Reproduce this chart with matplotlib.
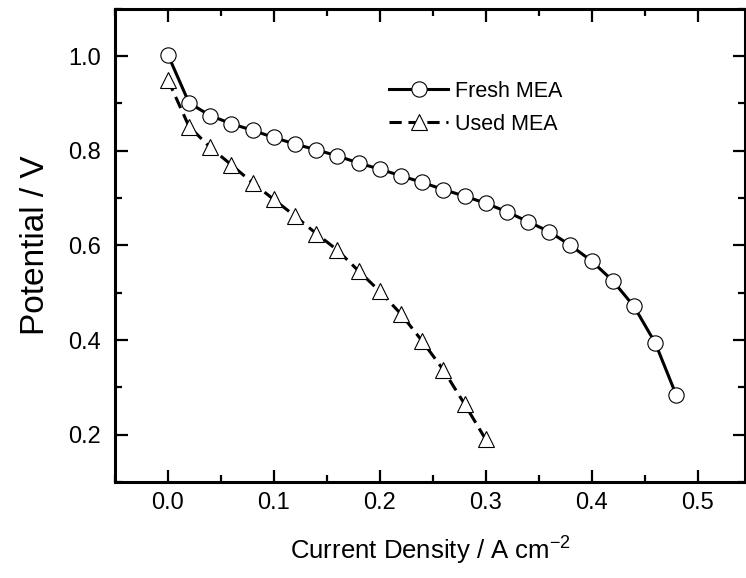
import matplotlib
matplotlib.use("Agg")
import matplotlib.pyplot as plt
from matplotlib.ticker import MultipleLocator, FormatStrFormatter

plt.rcParams['font.family'] = ['Liberation Sans', 'DejaVu Sans']
plt.rcParams['mathtext.fontset'] = 'custom'
plt.rcParams['mathtext.rm'] = 'Liberation Sans'

# ---------- data ----------
fresh_j = [0.00, 0.02, 0.04, 0.06, 0.08, 0.10, 0.12, 0.14, 0.16, 0.18, 0.20, 0.22, 0.24,
           0.26, 0.28, 0.30, 0.32, 0.34, 0.36, 0.38, 0.40, 0.42, 0.44, 0.46, 0.48]
fresh_v = [1.003, 0.901, 0.874, 0.857, 0.843, 0.828, 0.814, 0.802, 0.789, 0.774, 0.761, 0.747, 0.733,
           0.718, 0.704, 0.689, 0.671, 0.650, 0.629, 0.600, 0.567, 0.525, 0.471, 0.394, 0.283]
used_j = [0.00, 0.02, 0.04, 0.06, 0.08, 0.10, 0.12, 0.14, 0.16, 0.18, 0.20, 0.22, 0.24, 0.26, 0.28, 0.30]
used_v = [0.950, 0.851, 0.807, 0.770, 0.732, 0.697, 0.662, 0.625, 0.590, 0.546, 0.503, 0.455,
          0.398, 0.337, 0.265, 0.190]

fig = plt.figure(figsize=(7.46, 5.78), dpi=100)
ax = fig.add_axes([0.154, 0.166, 0.845, 0.819])

mk = dict(markersize=11, markerfacecolor="white", markeredgecolor="black", markeredgewidth=0.8)
ax.plot(fresh_j, fresh_v, "-", color="black", lw=2.2, marker="o", label="Fresh MEA", **mk)
ax.plot(used_j, used_v, color="black", lw=2.2, ls=(0, (4, 2.2)), marker="^", label="Used MEA", **mk)

ax.set_xlim(-0.05, 0.545)
ax.set_ylim(0.1, 1.1)
ax.xaxis.set_major_locator(MultipleLocator(0.1)); ax.xaxis.set_minor_locator(MultipleLocator(0.05))
ax.yaxis.set_minor_locator(MultipleLocator(0.1))
ax.set_yticks([0.2, 0.4, 0.6, 0.8, 1.0])
ax.xaxis.set_major_formatter(FormatStrFormatter("%.1f"))
ax.yaxis.set_major_formatter(FormatStrFormatter("%.1f"))
ax.tick_params(which="both", direction="in", top=True, right=True, width=1.6)
ax.tick_params(which="major", length=9, labelsize=17)
ax.tick_params(which="minor", length=5)
ax.tick_params(axis="x", which="major", pad=7)
ax.tick_params(axis="y", which="major", pad=10)
for s in ax.spines.values():
    s.set_linewidth(2.2)

ax.set_xlabel(r"Current Density / A cm$^{-2}$", fontsize=18.5, labelpad=14)
ax.set_ylabel("Potential / V", fontsize=24, labelpad=12)

ax.legend(loc="upper left", bbox_to_anchor=(0.418, 0.87), frameon=False, fontsize=15.5,
          handlelength=2.75, handletextpad=0.3, labelspacing=0.55, borderpad=0)

plt.savefig("out.png", dpi=100)
